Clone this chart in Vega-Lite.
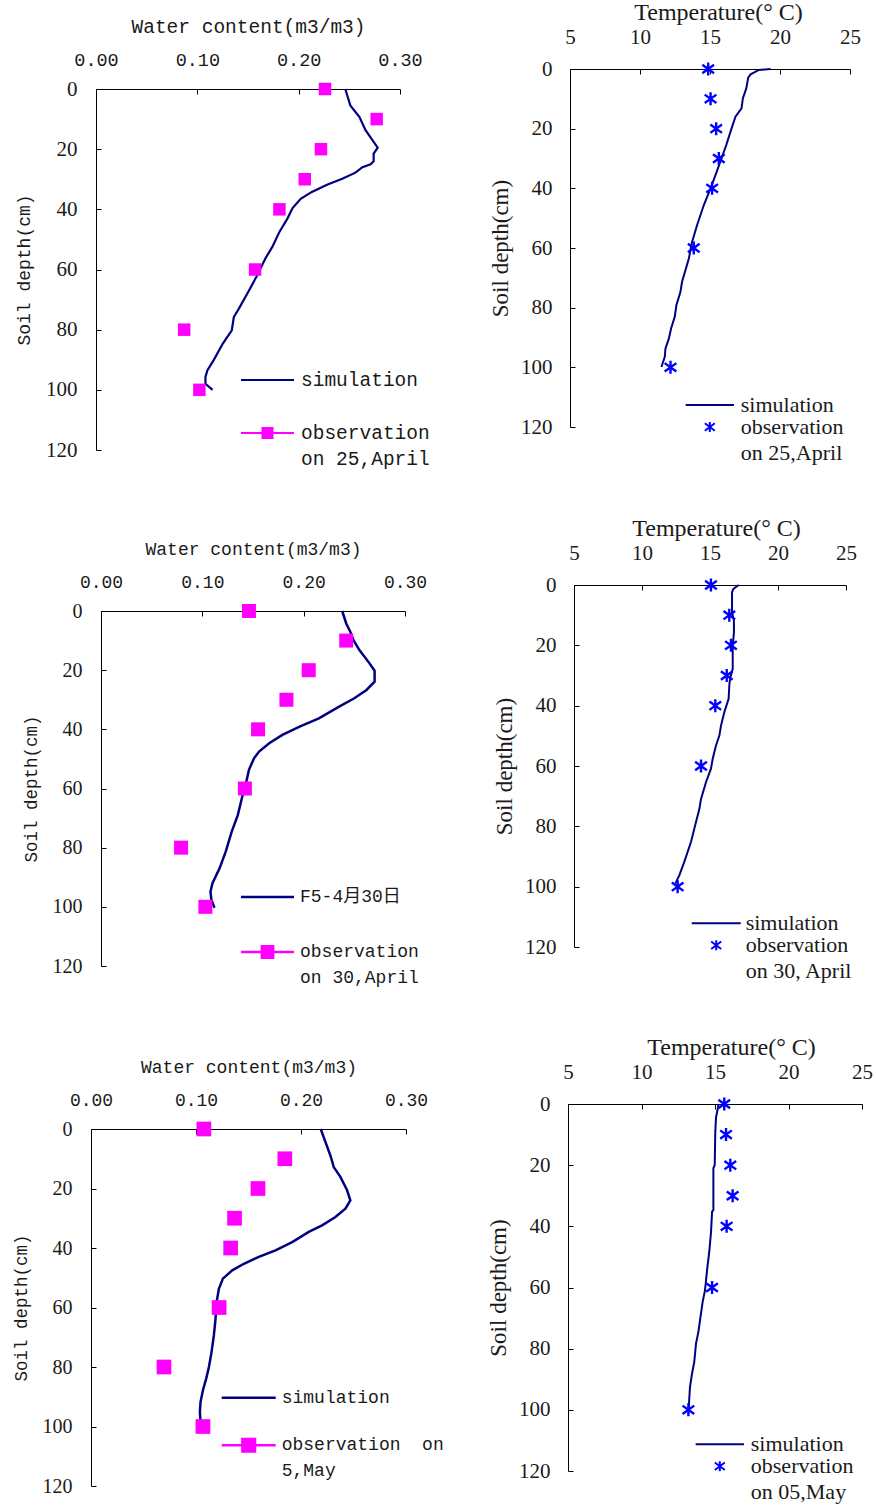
{
"$schema": "https://vega.github.io/schema/vega-lite/v6.json",
"background": "white",
"padding": {"left": 12, "top": 0, "right": 5, "bottom": 5},
"columns": 2,
"spacing": {"row": 135, "column": 162},
"bounds": "flush",
"resolve": {"scale": {"color": "independent", "shape": "independent"}, "legend": {"color": "independent", "shape": "independent"}},
"datasets": {
"p1s": [{"depth":0,"value":0.246},{"depth":5.5,"value":0.251},{"depth":9.3,"value":0.260},{"depth":13.7,"value":0.266},{"depth":19.5,"value":0.278},{"depth":21.5,"value":0.274},{"depth":24,"value":0.274},{"depth":25,"value":0.271},{"depth":26,"value":0.263},{"depth":27.8,"value":0.256},{"depth":29.8,"value":0.243},{"depth":31.8,"value":0.228},{"depth":34.2,"value":0.213},{"depth":36.5,"value":0.202},{"depth":39.6,"value":0.194},{"depth":43,"value":0.189},{"depth":47.5,"value":0.181},{"depth":52.5,"value":0.174},{"depth":56.4,"value":0.167},{"depth":62,"value":0.159},{"depth":67,"value":0.151},{"depth":73,"value":0.141},{"depth":75.8,"value":0.136},{"depth":80.2,"value":0.134},{"depth":84.7,"value":0.125},{"depth":90.2,"value":0.116},{"depth":93.5,"value":0.110},{"depth":95.7,"value":0.108},{"depth":98,"value":0.108},{"depth":100,"value":0.115}],
"p1o": [{"depth":0,"value":0.226},{"depth":10,"value":0.277},{"depth":20,"value":0.222},{"depth":30,"value":0.206},{"depth":40,"value":0.181},{"depth":60,"value":0.157},{"depth":80,"value":0.087},{"depth":100,"value":0.102}],
"p2s": [{"depth":0,"value":19.33},{"depth":0.3,"value":18.49},{"depth":1.8,"value":17.9},{"depth":2.9,"value":17.73},{"depth":6.5,"value":17.59},{"depth":9.8,"value":17.35},{"depth":13.2,"value":17.25},{"depth":16,"value":16.82},{"depth":19.9,"value":16.54},{"depth":25.5,"value":16.16},{"depth":30,"value":15.82},{"depth":35.6,"value":15.39},{"depth":40,"value":15.04},{"depth":45.6,"value":14.56},{"depth":52.3,"value":14.08},{"depth":58,"value":13.72},{"depth":63.5,"value":13.49},{"depth":71.4,"value":13.0},{"depth":74.7,"value":12.89},{"depth":79.2,"value":12.6},{"depth":83.1,"value":12.48},{"depth":87,"value":12.22},{"depth":90.4,"value":12.06},{"depth":93.7,"value":11.82},{"depth":96.5,"value":11.77},{"depth":99.9,"value":11.53}],
"p2o": [{"depth":0,"value":14.87},{"depth":10,"value":15.04},{"depth":20,"value":15.44},{"depth":30,"value":15.63},{"depth":40,"value":15.15},{"depth":60,"value":13.84},{"depth":100,"value":12.18}],
"p3s": [{"depth":0,"value":0.238},{"depth":4.2,"value":0.242},{"depth":7,"value":0.246},{"depth":9.8,"value":0.249},{"depth":13.2,"value":0.255},{"depth":17.7,"value":0.265},{"depth":20.2,"value":0.270},{"depth":23.9,"value":0.270},{"depth":26.7,"value":0.262},{"depth":29.5,"value":0.250},{"depth":32.3,"value":0.235},{"depth":36.3,"value":0.215},{"depth":39.1,"value":0.196},{"depth":41.9,"value":0.179},{"depth":44.7,"value":0.166},{"depth":47.5,"value":0.156},{"depth":49.8,"value":0.151},{"depth":53.7,"value":0.146},{"depth":58.3,"value":0.143},{"depth":63.3,"value":0.139},{"depth":69,"value":0.135},{"depth":74.6,"value":0.129},{"depth":81.4,"value":0.123},{"depth":87,"value":0.117},{"depth":92,"value":0.110},{"depth":94.9,"value":0.108},{"depth":97.7,"value":0.109},{"depth":100.3,"value":0.112}],
"p3o": [{"depth":0,"value":0.146},{"depth":10,"value":0.242},{"depth":20,"value":0.205},{"depth":30,"value":0.183},{"depth":40,"value":0.155},{"depth":60,"value":0.142},{"depth":80,"value":0.079},{"depth":100,"value":0.103}],
"p4s": [{"depth":0,"value":17.11},{"depth":1.3,"value":16.72},{"depth":2.4,"value":16.62},{"depth":9,"value":16.62},{"depth":11.8,"value":16.76},{"depth":15.7,"value":16.76},{"depth":20.1,"value":16.67},{"depth":27.8,"value":16.67},{"depth":31.1,"value":16.47},{"depth":33.3,"value":16.42},{"depth":37.7,"value":16.37},{"depth":42.2,"value":16.05},{"depth":46.6,"value":15.81},{"depth":49.9,"value":15.69},{"depth":53.2,"value":15.44},{"depth":57.6,"value":15.2},{"depth":60.9,"value":15.07},{"depth":65.3,"value":14.71},{"depth":70.9,"value":14.34},{"depth":74.2,"value":14.22},{"depth":78.6,"value":13.97},{"depth":85.2,"value":13.6},{"depth":91.8,"value":13.11},{"depth":96.2,"value":12.75},{"depth":99,"value":12.45}],
"p4o": [{"depth":0,"value":15.07},{"depth":10,"value":16.42},{"depth":20,"value":16.54},{"depth":30,"value":16.23},{"depth":40,"value":15.39},{"depth":60,"value":14.34},{"depth":100,"value":12.62}],
"p5s": [{"depth":0,"value":0.2188},{"depth":4.4,"value":0.2233},{"depth":8.9,"value":0.228},{"depth":12.8,"value":0.2312},{"depth":16.1,"value":0.2375},{"depth":20.6,"value":0.2439},{"depth":24,"value":0.247},{"depth":26.8,"value":0.2423},{"depth":29.6,"value":0.2328},{"depth":32.4,"value":0.2201},{"depth":34.6,"value":0.2074},{"depth":38,"value":0.1916},{"depth":40.8,"value":0.1757},{"depth":43,"value":0.1598},{"depth":45.3,"value":0.1456},{"depth":47.5,"value":0.1345},{"depth":50.3,"value":0.1256},{"depth":53.7,"value":0.1218},{"depth":58.2,"value":0.1196},{"depth":63.8,"value":0.1186},{"depth":69.4,"value":0.117},{"depth":75,"value":0.1148},{"depth":80,"value":0.1123},{"depth":83.9,"value":0.1097},{"depth":87.8,"value":0.1066},{"depth":91.8,"value":0.1043},{"depth":95.1,"value":0.1037},{"depth":98.5,"value":0.1043},{"depth":99.8,"value":0.105}],
"p5o": [{"depth":0,"value":0.1075},{"depth":10,"value":0.1846},{"depth":20,"value":0.159},{"depth":30,"value":0.1367},{"depth":40,"value":0.133},{"depth":60,"value":0.122},{"depth":80,"value":0.0695},{"depth":100,"value":0.1066}],
"p6s": [{"depth":0,"value":15.25},{"depth":4.4,"value":15.07},{"depth":9.1,"value":15.02},{"depth":20,"value":14.98},{"depth":21,"value":14.89},{"depth":34.7,"value":14.89},{"depth":35.2,"value":14.8},{"depth":41.8,"value":14.73},{"depth":48.3,"value":14.61},{"depth":54.3,"value":14.46},{"depth":60.9,"value":14.32},{"depth":64.7,"value":14.16},{"depth":70.1,"value":14.0},{"depth":74.5,"value":13.87},{"depth":78.3,"value":13.71},{"depth":84.3,"value":13.59},{"depth":88.1,"value":13.44},{"depth":92.5,"value":13.3},{"depth":96.3,"value":13.25},{"depth":100.1,"value":13.21}],
"p6o": [{"depth":0,"value":15.63},{"depth":10,"value":15.75},{"depth":20,"value":16.04},{"depth":30,"value":16.2},{"depth":40,"value":15.79},{"depth":60,"value":14.8},{"depth":100,"value":13.19}]
},
"concat": [
{
"width": 315, "height": 381,
"encoding": {
"x": {"field": "value", "type": "quantitative", "scale": {"domain": [0, 0.3], "range": [5, 309], "nice": false, "zero": false},
 "axis": {"orient": "top", "title": "Water content(m3/m3)", "values": [0, 0.1, 0.2, 0.3], "format": ".2f", "labelFont": "Liberation Mono", "labelFontSize": 18.5, "titleFont": "Liberation Mono", "titleFontSize": 19.5, "labelPadding": 25, "titlePadding": 14, "offset": -20}},
"y": {"field": "depth", "type": "quantitative", "scale": {"domain": [0, 120], "range": [20, 381], "nice": false, "zero": false},
 "axis": {"orient": "left", "title": "Soil depth(cm)", "values": [0, 20, 40, 60, 80, 100, 120], "labelFont": "Liberation Serif", "labelFontSize": 21, "titleFont": "Liberation Mono", "titleFontSize": 18, "labelPadding": 24, "titlePadding": 12, "offset": -5}}
},
"layer": [
{"data": {"name": "p1s"}, "mark": {"type": "line", "color": "#000080", "strokeWidth": 2.2}, "encoding": {"order": {"field": "depth", "type": "quantitative"}}},
{"data": {"name": "p1o"}, "mark": {"type": "point", "shape": "square", "filled": true, "color": "#FF00FF", "size": 156, "opacity": 1}},
{"data": {"name": "p1o"}, "transform": [{"filter": "false"}], "mark": {"type": "point", "filled": true, "opacity": 1},
 "encoding": {
 "color": {"field": "series", "type": "nominal", "scale": {"domain": ["simulation", "observation"], "range": ["#000080", "#FF00FF"]},
  "legend": {"orient": "none", "legendX": 150, "legendY": 284.5, "title": null, "padding": 0, "symbolSize": 2809, "symbolStrokeWidth": 0, "labelOffset": 7, "rowPadding": 17, "labelFont": "Liberation Mono", "labelFontSize": 19.5, "labelColor": "#1a1a1a", "labelLimit": 0, "labelExpr": "datum.value == 'observation' ? ['observation', 'on 25,April'] : datum.label"}},
 "shape": {"field": "series", "type": "nominal", "scale": {"domain": ["simulation", "observation"], "range": ["M-1,-0.04L1,-0.04L1,0.04L-1,0.04Z", "M-1,-0.04L1,-0.04L1,0.04L-1,0.04ZM-0.226,-0.226L0.226,-0.226L0.226,0.226L-0.226,0.226Z"]},
  "legend": {"orient": "none", "legendX": 150, "legendY": 284.5, "title": null, "padding": 0, "symbolSize": 2809, "symbolStrokeWidth": 0, "labelOffset": 7, "rowPadding": 17, "labelFont": "Liberation Mono", "labelFontSize": 19.5, "labelColor": "#1a1a1a", "labelLimit": 0, "labelExpr": "datum.value == 'observation' ? ['observation', 'on 25,April'] : datum.label"}}
 }}
]
},
{
"width": 294, "height": 358,
"encoding": {
"x": {"field": "value", "type": "quantitative", "scale": {"domain": [5, 25], "range": [2, 282], "nice": false, "zero": false},
 "axis": {"orient": "top", "title": "Temperature(° C)", "values": [5, 10, 15, 20, 25], "format": "d", "labelFont": "Liberation Serif", "labelFontSize": 21, "titleFont": "Liberation Serif", "titleFontSize": 24, "labelPadding": 27, "titlePadding": 2, "titleX": 150}},
"y": {"field": "depth", "type": "quantitative", "scale": {"domain": [0, 120], "range": [0, 358], "nice": false, "zero": false},
 "axis": {"orient": "left", "title": "Soil depth(cm)", "values": [0, 20, 40, 60, 80, 100, 120], "labelFont": "Liberation Serif", "labelFontSize": 21, "titleFont": "Liberation Serif", "titleFontSize": 23, "labelPadding": 23, "titlePadding": 8, "offset": -2}}
},
"layer": [
{"data": {"name": "p2s"}, "mark": {"type": "line", "color": "#000080", "strokeWidth": 2}, "encoding": {"order": {"field": "depth", "type": "quantitative"}}},
{"data": {"name": "p2o"}, "mark": {"type": "point", "shape": "M0,-1L0,1M-0.9,-0.65L0.9,0.65M-0.9,0.65L0.9,-0.65", "filled": false, "color": "#0000FF", "size": 169, "strokeWidth": 2.4, "opacity": 1}},
{"data": {"name": "p2o"}, "transform": [{"filter": "false"}], "mark": {"type": "point", "filled": false, "opacity": 1, "strokeWidth": 2},
 "encoding": {
 "color": {"field": "series", "type": "nominal", "scale": {"domain": ["simulation", "observation"], "range": ["#000080", "#0000FF"]},
  "legend": {"orient": "none", "legendX": 130.8, "legendY": 325, "title": null, "padding": 0, "symbolSize": 100, "symbolStrokeWidth": 2, "labelOffset": 20, "rowPadding": 0, "labelFont": "Liberation Serif", "labelFontSize": 22, "labelColor": "#1a1a1a", "labelLimit": 0, "labelExpr": "datum.value == 'observation' ? ['observation', 'on 25,April'] : datum.label"}},
 "shape": {"field": "series", "type": "nominal", "scale": {"domain": ["simulation", "observation"], "range": ["M-4.83,0L4.83,0", "M0,-1L0,1M-1,-0.75L1,0.75M-1,0.75L1,-0.75"]},
  "legend": {"orient": "none", "legendX": 130.8, "legendY": 325, "title": null, "padding": 0, "symbolSize": 100, "symbolStrokeWidth": 2, "labelOffset": 20, "rowPadding": 0, "labelFont": "Liberation Serif", "labelFontSize": 22, "labelColor": "#1a1a1a", "labelLimit": 0, "labelExpr": "datum.value == 'observation' ? ['observation', 'on 25,April'] : datum.label"}}
 }}
]
},
{
"width": 315, "height": 384,
"encoding": {
"x": {"field": "value", "type": "quantitative", "scale": {"domain": [0, 0.3], "range": [10, 314], "nice": false, "zero": false},
 "axis": {"orient": "top", "title": "Water content(m3/m3)", "values": [0, 0.1, 0.2, 0.3], "format": ".2f", "labelFont": "Liberation Mono", "labelFontSize": 18, "titleFont": "Liberation Mono", "titleFontSize": 18, "labelPadding": 25, "titlePadding": 15, "offset": -26}},
"y": {"field": "depth", "type": "quantitative", "scale": {"domain": [0, 120], "range": [26, 381], "nice": false, "zero": false},
 "axis": {"orient": "left", "title": "Soil depth(cm)", "values": [0, 20, 40, 60, 80, 100, 120], "labelFont": "Liberation Serif", "labelFontSize": 20, "titleFont": "Liberation Mono", "titleFontSize": 17.5, "labelPadding": 24, "titlePadding": 12, "offset": -10}}
},
"layer": [
{"data": {"name": "p3s"}, "mark": {"type": "line", "color": "#000080", "strokeWidth": 2.5}, "encoding": {"order": {"field": "depth", "type": "quantitative"}}},
{"data": {"name": "p3o"}, "mark": {"type": "point", "shape": "square", "filled": true, "color": "#FF00FF", "size": 196, "opacity": 1}},
{"data": {"name": "p3o"}, "transform": [{"filter": "false"}], "mark": {"type": "point", "filled": true, "opacity": 1},
 "encoding": {
 "color": {"field": "series", "type": "nominal", "scale": {"domain": ["F5-4月30日", "observation"], "range": ["#000080", "#FF00FF"]},
  "legend": {"orient": "none", "legendX": 150, "legendY": 285.5, "title": null, "padding": 0, "symbolSize": 2809, "symbolStrokeWidth": 0, "labelOffset": 6, "rowPadding": 19, "labelFont": "Liberation Mono, Noto Sans CJK SC", "labelFontSize": 18, "labelColor": "#1a1a1a", "labelLimit": 0, "labelExpr": "datum.value == 'observation' ? ['observation', 'on 30,April'] : datum.label"}},
 "shape": {"field": "series", "type": "nominal", "scale": {"domain": ["F5-4月30日", "observation"], "range": ["M-1,-0.045L1,-0.045L1,0.045L-1,0.045Z", "M-1,-0.045L1,-0.045L1,0.045L-1,0.045ZM-0.26,-0.26L0.26,-0.26L0.26,0.26L-0.26,0.26Z"]},
  "legend": {"orient": "none", "legendX": 150, "legendY": 285.5, "title": null, "padding": 0, "symbolSize": 2809, "symbolStrokeWidth": 0, "labelOffset": 6, "rowPadding": 19, "labelFont": "Liberation Mono, Noto Sans CJK SC", "labelFontSize": 18, "labelColor": "#1a1a1a", "labelLimit": 0, "labelExpr": "datum.value == 'observation' ? ['observation', 'on 30,April'] : datum.label"}}
 }}
]
},
{
"width": 294, "height": 362,
"encoding": {
"x": {"field": "value", "type": "quantitative", "scale": {"domain": [5, 25], "range": [6, 278], "nice": false, "zero": false},
 "axis": {"orient": "top", "title": "Temperature(° C)", "values": [5, 10, 15, 20, 25], "format": "d", "labelFont": "Liberation Serif", "labelFontSize": 21, "titleFont": "Liberation Serif", "titleFontSize": 24, "labelPadding": 27, "titlePadding": 2, "titleX": 148}},
"y": {"field": "depth", "type": "quantitative", "scale": {"domain": [0, 120], "range": [0, 362], "nice": false, "zero": false},
 "axis": {"orient": "left", "title": "Soil depth(cm)", "values": [0, 20, 40, 60, 80, 100, 120], "labelFont": "Liberation Serif", "labelFontSize": 21, "titleFont": "Liberation Serif", "titleFontSize": 23, "labelPadding": 23, "titlePadding": 8, "offset": -6}}
},
"layer": [
{"data": {"name": "p4s"}, "mark": {"type": "line", "color": "#000080", "strokeWidth": 2}, "encoding": {"order": {"field": "depth", "type": "quantitative"}}},
{"data": {"name": "p4o"}, "mark": {"type": "point", "shape": "M0,-1L0,1M-0.9,-0.65L0.9,0.65M-0.9,0.65L0.9,-0.65", "filled": false, "color": "#0000FF", "size": 169, "strokeWidth": 2.4, "opacity": 1}},
{"data": {"name": "p4o"}, "transform": [{"filter": "false"}], "mark": {"type": "point", "filled": false, "opacity": 1, "strokeWidth": 2},
 "encoding": {
 "color": {"field": "series", "type": "nominal", "scale": {"domain": ["simulation", "observation"], "range": ["#000080", "#0000FF"]},
  "legend": {"orient": "none", "legendX": 137.2, "legendY": 327.3, "title": null, "padding": 0, "symbolSize": 100, "symbolStrokeWidth": 2, "labelOffset": 18.5, "rowPadding": 0, "labelFont": "Liberation Serif", "labelFontSize": 22, "labelColor": "#1a1a1a", "labelLimit": 0, "labelExpr": "datum.value == 'observation' ? ['observation', 'on 30, April'] : datum.label"}},
 "shape": {"field": "series", "type": "nominal", "scale": {"domain": ["simulation", "observation"], "range": ["M-4.9,0L4.9,0", "M0,-1L0,1M-1,-0.75L1,0.75M-1,0.75L1,-0.75"]},
  "legend": {"orient": "none", "legendX": 137.2, "legendY": 327.3, "title": null, "padding": 0, "symbolSize": 100, "symbolStrokeWidth": 2, "labelOffset": 18.5, "rowPadding": 0, "labelFont": "Liberation Serif", "labelFontSize": 22, "labelColor": "#1a1a1a", "labelLimit": 0, "labelExpr": "datum.value == 'observation' ? ['observation', 'on 30, April'] : datum.label"}}
 }}
]
},
{
"width": 315, "height": 382,
"encoding": {
"x": {"field": "value", "type": "quantitative", "scale": {"domain": [0, 0.3], "range": [0, 315], "nice": false, "zero": false},
 "axis": {"orient": "top", "title": "Water content(m3/m3)", "values": [0, 0.1, 0.2, 0.3], "format": ".2f", "labelFont": "Liberation Mono", "labelFontSize": 18, "titleFont": "Liberation Mono", "titleFontSize": 18, "labelPadding": 25, "titlePadding": 15, "offset": -25}},
"y": {"field": "depth", "type": "quantitative", "scale": {"domain": [0, 120], "range": [25, 382], "nice": false, "zero": false},
 "axis": {"orient": "left", "title": "Soil depth(cm)", "values": [0, 20, 40, 60, 80, 100, 120], "labelFont": "Liberation Serif", "labelFontSize": 20, "titleFont": "Liberation Mono", "titleFontSize": 17.5, "labelPadding": 24, "titlePadding": 12, "offset": 0}}
},
"layer": [
{"data": {"name": "p5s"}, "mark": {"type": "line", "color": "#000080", "strokeWidth": 2.5}, "encoding": {"order": {"field": "depth", "type": "quantitative"}}},
{"data": {"name": "p5o"}, "mark": {"type": "point", "shape": "square", "filled": true, "color": "#FF00FF", "size": 216, "opacity": 1}},
{"data": {"name": "p5o"}, "transform": [{"filter": "false"}], "mark": {"type": "point", "filled": true, "opacity": 1},
 "encoding": {
 "color": {"field": "series", "type": "nominal", "scale": {"domain": ["simulation", "observation"], "range": ["#000080", "#FF00FF"]},
  "legend": {"orient": "none", "legendX": 130.7, "legendY": 266.7, "title": null, "padding": 0, "symbolSize": 2916, "symbolStrokeWidth": 0, "labelOffset": 6, "rowPadding": 11.6, "labelFont": "Liberation Mono", "labelFontSize": 18, "labelColor": "#1a1a1a", "labelLimit": 0, "labelExpr": "datum.value == 'observation' ? ['observation\u00a0\u00a0on', '5,May'] : datum.label"}},
 "shape": {"field": "series", "type": "nominal", "scale": {"domain": ["simulation", "observation"], "range": ["M-1,-0.045L1,-0.045L1,0.045L-1,0.045Z", "M-1,-0.045L1,-0.045L1,0.045L-1,0.045ZM-0.28,-0.28L0.28,-0.28L0.28,0.28L-0.28,0.28Z"]},
  "legend": {"orient": "none", "legendX": 130.7, "legendY": 266.7, "title": null, "padding": 0, "symbolSize": 2916, "symbolStrokeWidth": 0, "labelOffset": 6, "rowPadding": 11.6, "labelFont": "Liberation Mono", "labelFontSize": 18, "labelColor": "#1a1a1a", "labelLimit": 0, "labelExpr": "datum.value == 'observation' ? ['observation\u00a0\u00a0on', '5,May'] : datum.label"}}
 }}
]
},
{
"width": 294, "height": 367,
"encoding": {
"x": {"field": "value", "type": "quantitative", "scale": {"domain": [5, 25], "range": [0, 294], "nice": false, "zero": false},
 "axis": {"orient": "top", "title": "Temperature(° C)", "values": [5, 10, 15, 20, 25], "format": "d", "labelFont": "Liberation Serif", "labelFontSize": 21, "titleFont": "Liberation Serif", "titleFontSize": 24, "labelPadding": 27, "titlePadding": 2, "titleX": 163}},
"y": {"field": "depth", "type": "quantitative", "scale": {"domain": [0, 120], "range": [0, 367], "nice": false, "zero": false},
 "axis": {"orient": "left", "title": "Soil depth(cm)", "values": [0, 20, 40, 60, 80, 100, 120], "labelFont": "Liberation Serif", "labelFontSize": 21, "titleFont": "Liberation Serif", "titleFontSize": 23, "labelPadding": 23, "titlePadding": 8, "offset": 0}}
},
"layer": [
{"data": {"name": "p6s"}, "mark": {"type": "line", "color": "#000080", "strokeWidth": 2}, "encoding": {"order": {"field": "depth", "type": "quantitative"}}},
{"data": {"name": "p6o"}, "mark": {"type": "point", "shape": "M0,-1L0,1M-0.9,-0.65L0.9,0.65M-0.9,0.65L0.9,-0.65", "filled": false, "color": "#0000FF", "size": 169, "strokeWidth": 2.4, "opacity": 1}},
{"data": {"name": "p6o"}, "transform": [{"filter": "false"}], "mark": {"type": "point", "filled": false, "opacity": 1, "strokeWidth": 2},
 "encoding": {
 "color": {"field": "series", "type": "nominal", "scale": {"domain": ["simulation", "observation"], "range": ["#000080", "#0000FF"]},
  "legend": {"orient": "none", "legendX": 140.8, "legendY": 329.3, "title": null, "padding": 0, "symbolSize": 100, "symbolStrokeWidth": 2, "labelOffset": 20, "rowPadding": 0, "labelFont": "Liberation Serif", "labelFontSize": 22, "labelColor": "#1a1a1a", "labelLimit": 0, "labelExpr": "datum.value == 'observation' ? ['observation', 'on 05,May'] : datum.label"}},
 "shape": {"field": "series", "type": "nominal", "scale": {"domain": ["simulation", "observation"], "range": ["M-4.83,0L4.83,0", "M0,-1L0,1M-1,-0.75L1,0.75M-1,0.75L1,-0.75"]},
  "legend": {"orient": "none", "legendX": 140.8, "legendY": 329.3, "title": null, "padding": 0, "symbolSize": 100, "symbolStrokeWidth": 2, "labelOffset": 20, "rowPadding": 0, "labelFont": "Liberation Serif", "labelFontSize": 22, "labelColor": "#1a1a1a", "labelLimit": 0, "labelExpr": "datum.value == 'observation' ? ['observation', 'on 05,May'] : datum.label"}}
 }}
]
}
],
"config": {
"view": {"stroke": null},
"style": {"guide-label": {"lineHeight": 26}},
"axis": {"grid": false, "domainColor": "#000000", "tickColor": "#000000", "labelColor": "#1a1a1a", "titleColor": "#1a1a1a", "titleFontWeight": "normal", "labelFlush": false, "labelOverlap": false, "tickSize": -5, "titleLimit": 1000, "labelLimit": 1000}
}
}
